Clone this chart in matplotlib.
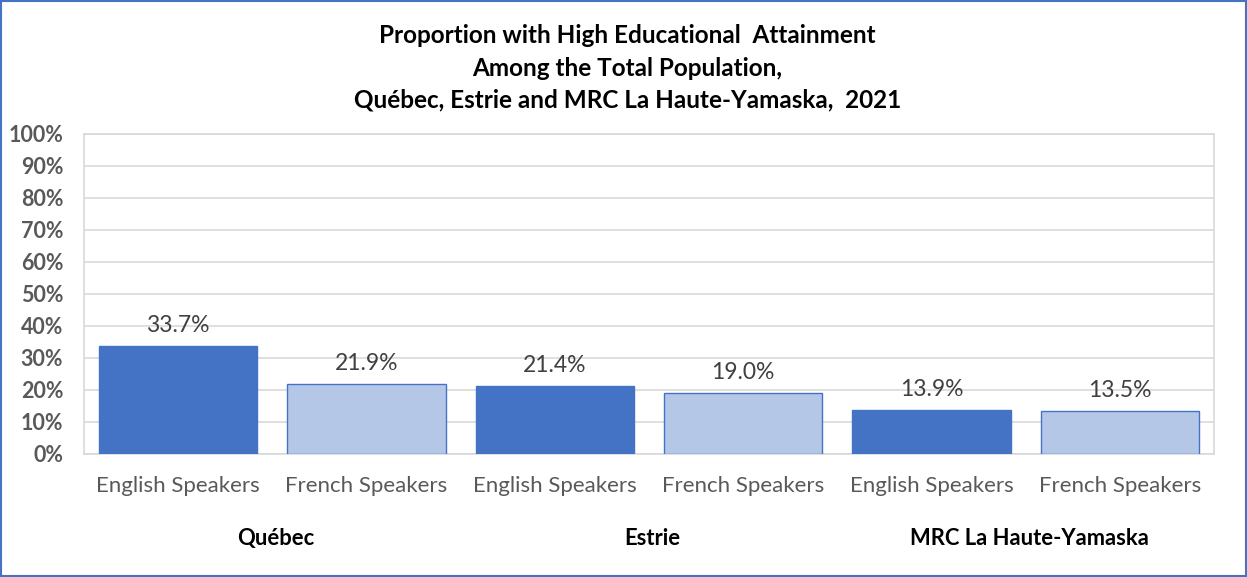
import matplotlib
matplotlib.use('Agg')
import matplotlib.pyplot as plt
from matplotlib.patches import Rectangle

plt.rcParams['font.family'] = ['Lato', 'DejaVu Sans']

regions = ['Québec', 'Estrie', 'MRC La Haute-Yamaska']
speakers = ['English Speakers', 'French Speakers']
values = [33.7, 21.9, 21.4, 19.0, 13.9, 13.5]
y_ticks = [0, 10, 20, 30, 40, 50, 60, 70, 80, 90, 100]

C_DARK = '#4472C4'
C_LIGHT = '#B4C7E7'
C_GRID = '#D9D9D9'
C_TEXT = '#595959'

fig = plt.figure(figsize=(12.47, 5.77), dpi=100)
ax = fig.add_axes([0.0674, 0.2132, 0.9061, 0.5546])

xs = list(range(len(values)))
colors = [C_DARK if i % 2 == 0 else C_LIGHT for i in xs]
ax.bar(xs, values, width=0.84, color=colors, edgecolor=C_DARK, linewidth=1,
       zorder=3)
for x, v in zip(xs, values):
    ax.annotate(f'{v:.1f}%', (x, v), xytext=(0, 7), textcoords='offset points',
                ha='center', va='bottom', fontsize=16.5, color='#404040')

ax.set_xlim(-0.5, len(values) - 0.5)
ax.set_ylim(0, 100)
ax.set_yticks(y_ticks)
ax.set_yticklabels([f'{t}%' for t in y_ticks], fontweight='bold', fontsize=15.5)
ax.set_xticks(xs)
ax.set_xticklabels(speakers * len(regions), fontsize=16)
ax.tick_params(axis='both', length=0, colors=C_TEXT)
ax.tick_params(axis='x', pad=16)
ax.tick_params(axis='y', pad=15)
ax.grid(axis='y', color=C_GRID, linewidth=1.2, zorder=0)
for side in ax.spines.values():
    side.set_color(C_GRID)
    side.set_linewidth(1.2)

for i, r in enumerate(regions):
    ax.text(2 * i + 0.52, -26.5, r, ha='center', va='center', fontsize=15.8,
            fontweight='bold', color='black', clip_on=False)

fig.text(0.503, 0.938, 'Proportion with High Educational  Attainment',
         ha='center', va='center', fontsize=17.5, fontweight='bold')
fig.text(0.503, 0.882, 'Among the Total Population,',
         ha='center', va='center', fontsize=17.5, fontweight='bold')
fig.text(0.503, 0.826, 'Québec, Estrie and MRC La Haute-Yamaska,  2021',
         ha='center', va='center', fontsize=17.5, fontweight='bold')

fig.patches.append(Rectangle((0.001, 0.002), 0.998, 0.996,
                             transform=fig.transFigure, fill=False,
                             edgecolor=C_DARK, linewidth=1.5))

fig.savefig('out.png', dpi=100, facecolor='white')
